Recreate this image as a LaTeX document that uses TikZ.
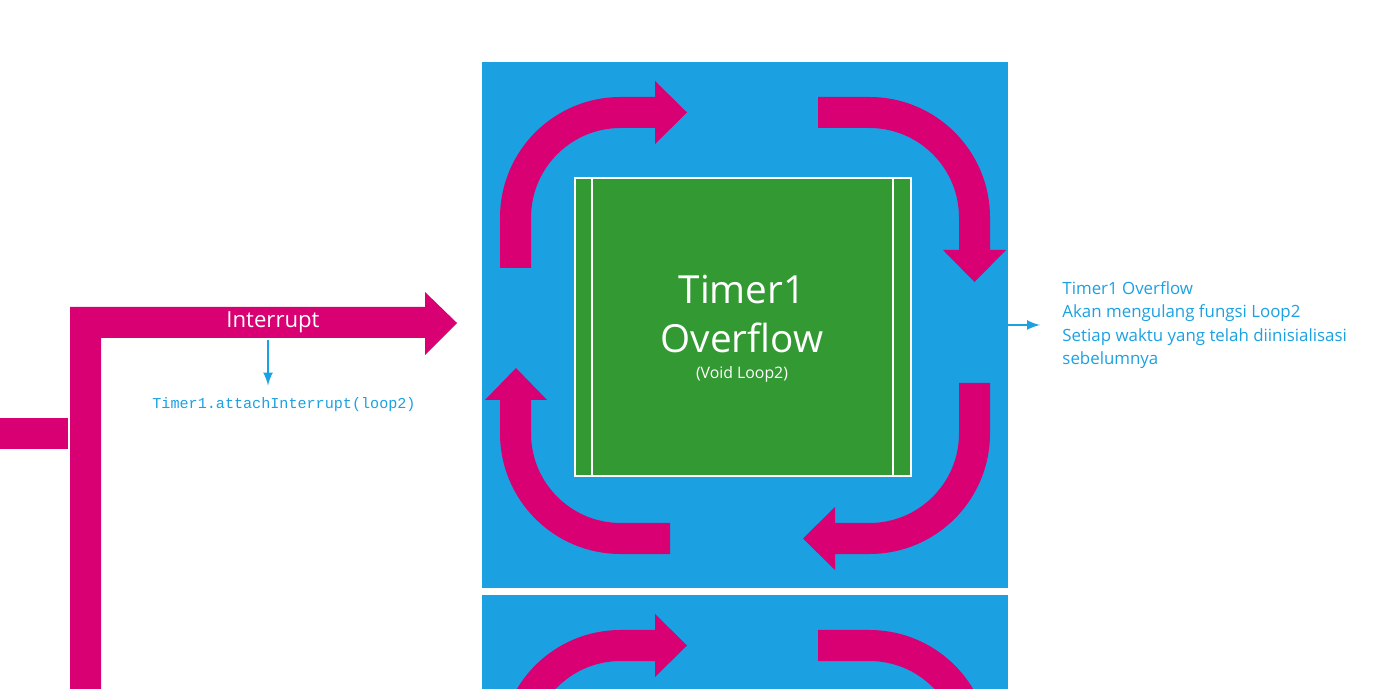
\documentclass[tikz,border=0pt]{standalone}
\usepackage{fontspec}
\setmainfont{Open Sans}
\newfontfamily\codefont{Liberation Mono}
\definecolor{mblue}{HTML}{1BA1E2}
\definecolor{mmag}{HTML}{D80073}
\definecolor{mgreen}{HTML}{339933}
\begin{document}
\begin{tikzpicture}[x=0.01cm,y=-0.01cm,
  band/.style={draw=mmag,line width=0.31cm,rounded corners=1.05cm},
  head/.style={fill=mmag},
  thin/.style={draw=mblue,line width=0.3pt,-latex}]
\useasboundingbox (0,0) rectangle (1386,689);
\fill[mblue] (482,62) rectangle (1008,588);
\fill[mblue] (482,595) rectangle (1008,689);
\fill[mgreen,draw=white,line width=0.3pt] (575,178) rectangle (911,476);
\draw[white,line width=0.3pt] (592,178) -- (592,476) (893,178) -- (893,476);
\node[white,font=\fontsize{11pt}{13pt}\selectfont] (t1) at (742,290) {Timer1};
\node[white,font=\fontsize{11pt}{13pt}\selectfont] (t2) at (742,338) {Overflow};
\node[white,font=\fontsize{4.5pt}{5pt}\selectfont] (t3) at (742,374) {(Void Loop2)};
% loop arrows
\draw[band] (515.5,268) -- (515.5,112.5) -- (656,112.5);
\fill[head] (655,81) -- (687,112.5) -- (655,144) -- cycle;
\draw[band] (818,112.5) -- (974.5,112.5) -- (974.5,251);
\fill[head] (943,250) -- (974.5,282) -- (1006,250) -- cycle;
\draw[band] (974.5,383) -- (974.5,538.5) -- (834,538.5);
\fill[head] (835,507) -- (803,538.5) -- (835,570) -- cycle;
\draw[band] (670,538.5) -- (515.5,538.5) -- (515.5,399);
\fill[head] (485,400) -- (516,368) -- (547,400) -- cycle;
\begin{scope}
\clip (482,595) rectangle (1008,689);
\draw[band] (515.5,801) -- (515.5,645.5) -- (656,645.5);
\fill[head] (655,614) -- (687,645.5) -- (655,677) -- cycle;
\draw[band] (818,645.5) -- (974.5,645.5) -- (974.5,784);
\end{scope}
% left
\fill[mmag] (70,689) -- (70,307) -- (425,307) -- (425,292) -- (457,323) -- (425,355) -- (425,338) -- (101,338) -- (101,689) -- cycle;
\fill[mmag] (0,418) rectangle (68,449);
\node[white,font=\fontsize{6.3pt}{7pt}\selectfont] (intr) at (273,322) {Interrupt};
\coordinate (a1) at (268,340);
\node[text=mblue,font=\codefont\fontsize{4.3pt}{5pt}\selectfont] (code) at (284,405) {Timer1.attachInterrupt(loop2)};
\draw[thin] (a1) -- (code.north -| a1);
\coordinate (b1) at (1008,325);
\node[text=mblue,anchor=west,align=left,font=\fontsize{4.8pt}{6.7pt}\selectfont] (desc) at (1050,325) {Timer1 Overflow\\Akan mengulang fungsi Loop2\\Setiap waktu yang telah diinisialisasi\\sebelumnya};
\draw[thin] (b1) -- (1040,325);
\end{tikzpicture}
\end{document}
